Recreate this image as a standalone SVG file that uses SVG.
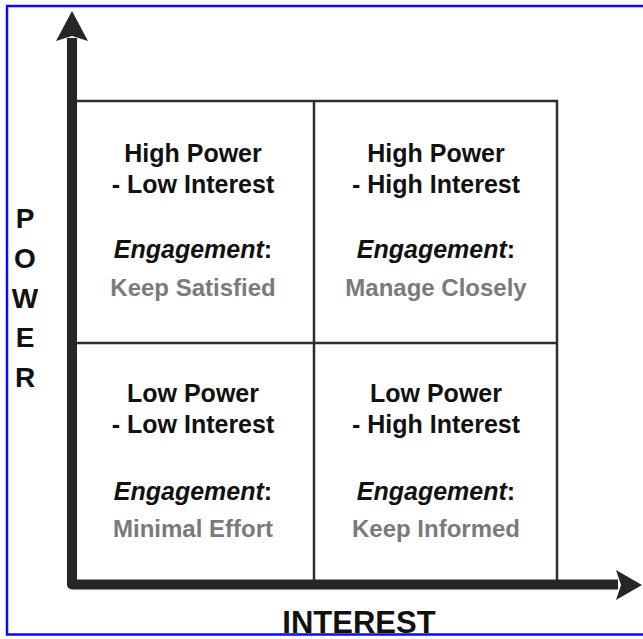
<svg xmlns="http://www.w3.org/2000/svg" width="643" height="639" viewBox="0 0 643 639">
<style>
.t{font-family:"Liberation Sans",Arial,sans-serif;font-weight:bold;text-anchor:middle;fill:#111}
.h{font-size:25px}
.e{font-size:25px;font-style:italic}
.g{font-size:24px;fill:#7a7a7a}
.ax{font-family:"Liberation Sans",Arial,sans-serif;font-weight:bold;fill:#111;text-anchor:middle}
.grid{fill:none;stroke:#2e2e2e;stroke-width:2.5}
</style>
<rect x="0" y="0" width="643" height="639" fill="#ffffff"/>
<rect x="7" y="6" width="645" height="628.5" fill="none" stroke="#0a0aff" stroke-width="2.5"/>
<g id="grid">
<rect class="grid" x="72" y="101" width="485" height="483"/>
<line class="grid" x1="314" y1="101" x2="314" y2="584"/>
<line class="grid" x1="72" y1="343" x2="557" y2="343"/>
</g>
<g id="connectors">
<path d="M72,38 L72,584.5 L618,584.5" fill="none" stroke="#262626" stroke-width="10" stroke-linejoin="round"/>
<polygon points="72,11 88,41 72,36 56,41" fill="#262626"/>
<polygon points="642,585 616,570 621,585 616,600" fill="#262626"/>
</g>
<g id="axis-power">
<text class="ax" font-size="28" x="25" y="228">P</text>
<text class="ax" font-size="28" x="25" y="268">O</text>
<text class="ax" font-size="28" x="25" y="308">W</text>
<text class="ax" font-size="28" x="25" y="347">E</text>
<text class="ax" font-size="28" x="25" y="387">R</text>
</g>
<g id="axis-interest">
<text class="ax" font-size="31" x="359" y="633">INTEREST</text>
</g>
<g id="q-high-low">
<text class="t h" x="193" y="162">High Power</text>
<text class="t h" x="193" y="193">- Low Interest</text>
<text class="t e" x="193" y="258">Engagement<tspan font-style="normal">:</tspan></text>
<text class="t g" x="193" y="296">Keep Satisfied</text>
</g>
<g id="q-high-high">
<text class="t h" x="436" y="162">High Power</text>
<text class="t h" x="436" y="193">- High Interest</text>
<text class="t e" x="436" y="258">Engagement<tspan font-style="normal">:</tspan></text>
<text class="t g" x="436" y="296">Manage Closely</text>
</g>
<g id="q-low-low">
<text class="t h" x="193" y="402">Low Power</text>
<text class="t h" x="193" y="433">- Low Interest</text>
<text class="t e" x="193" y="500">Engagement<tspan font-style="normal">:</tspan></text>
<text class="t g" x="193" y="537">Minimal Effort</text>
</g>
<g id="q-low-high">
<text class="t h" x="436" y="402">Low Power</text>
<text class="t h" x="436" y="433">- High Interest</text>
<text class="t e" x="436" y="500">Engagement<tspan font-style="normal">:</tspan></text>
<text class="t g" x="436" y="537">Keep Informed</text>
</g>
</svg>
